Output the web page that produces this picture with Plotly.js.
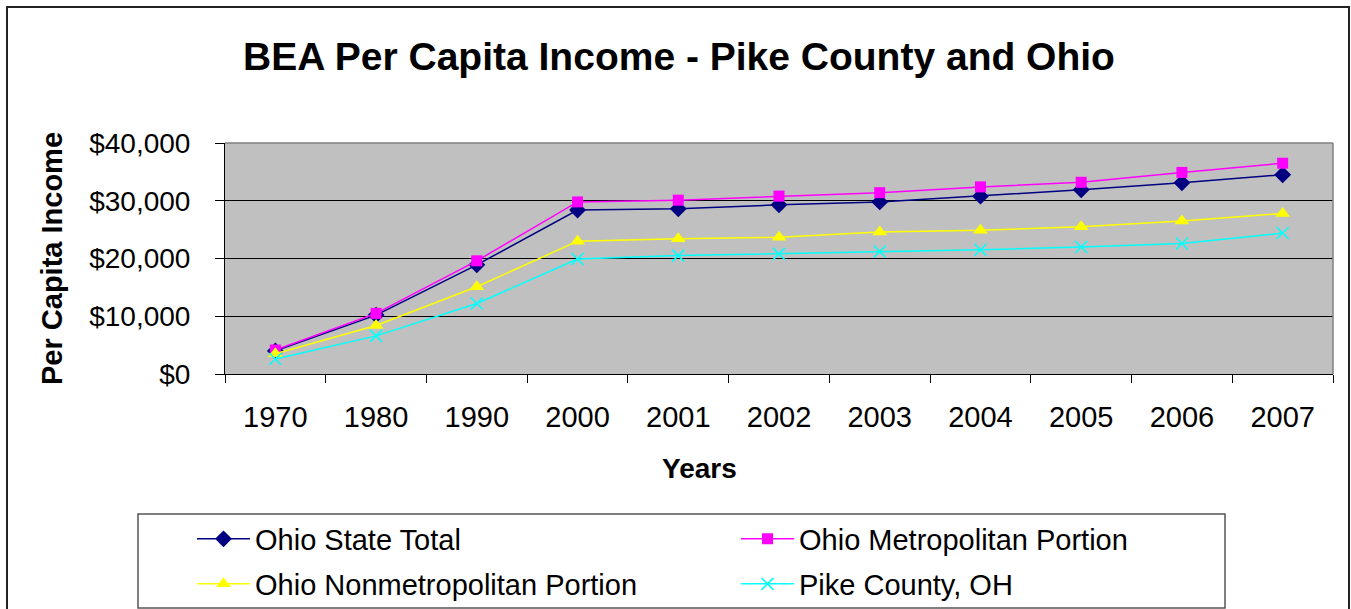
<!DOCTYPE html>
<html>
<head>
<meta charset="utf-8">
<script src="https://cdn.plot.ly/plotly-3.0.1.min.js"></script>
<style>html,body{margin:0;padding:0;background:#fff;}#chart{width:1351px;height:609px;}</style>
</head>
<body>
<div id="chart"></div>
<script>
var years = ['1970','1980','1990','2000','2001','2002','2003','2004','2005','2006','2007'];
var ohioState = [4000, 10200, 18900, 28400, 28600, 29300, 29800, 30800, 31900, 33100, 34500];
var ohioMetro = [4150, 10500, 19600, 29800, 30100, 30800, 31400, 32400, 33200, 34900, 36500];
var ohioNonmetro = [3500, 8400, 15100, 23000, 23400, 23700, 24600, 24900, 25500, 26500, 27800];
var pikeCounty = [2600, 6600, 12200, 19900, 20500, 20800, 21200, 21500, 22000, 22600, 24400];
var seriesNames = ['Ohio State Total','Ohio Metropolitan Portion','Ohio Nonmetropolitan Portion','Pike County, OH'];

var FONT = '"Liberation Sans", Arial, sans-serif';

var traces = [
  {x: years, y: ohioState, name: seriesNames[0], type: 'scatter', mode: 'lines+markers',
   line: {color: '#000080', width: 1.5}, marker: {symbol: 'diamond', size: 13, color: '#000080'}, legend: 'legend'},
  {x: years, y: ohioMetro, name: seriesNames[1], type: 'scatter', mode: 'lines+markers',
   line: {color: '#ff00ff', width: 1.5}, marker: {symbol: 'square', size: 11, color: '#ff00ff'}, legend: 'legend'},
  {x: years, y: ohioNonmetro, name: seriesNames[2], type: 'scatter', mode: 'lines+markers',
   line: {color: '#ffff00', width: 1.5}, marker: {symbol: 'triangle-up', size: 13, color: '#ffff00'}, legend: 'legend2'},
  {x: years, y: pikeCounty, name: seriesNames[3], type: 'scatter', mode: 'lines+markers',
   line: {color: '#00ffff', width: 1.5}, marker: {symbol: 'x-thin-open', size: 12, color: '#00ffff', line: {color: '#00ffff', width: 1.5}}, legend: 'legend2'}
];

// pixel helpers for paper coords (plot area: x 225..1333, y 143..374)
function px(x){ return (x - 225) / 1108; }
function py(y){ return (374 - y) / 231; }

var legendCommon = {
  orientation: 'h', xanchor: 'left', yanchor: 'middle',
  font: {family: FONT, size: 29, color: '#000'},
  bgcolor: 'rgba(0,0,0,0)', borderwidth: 0, itemwidth: 53,
  entrywidth: 476, entrywidthmode: 'pixels', tracegroupgap: 0, itemclick: false
};

var layout = {
  width: 1351, height: 609,
  margin: {l: 225, r: 18, t: 143, b: 235, autoexpand: false},
  paper_bgcolor: '#ffffff',
  plot_bgcolor: '#c0c0c0',
  font: {family: FONT, color: '#000'},
  showlegend: true,
  title: {text: '<b>BEA Per Capita Income - Pike County and Ohio</b>',
          font: {family: FONT, size: 39, color: '#000'},
          xref: 'container', x: 0.5026, xanchor: 'center',
          yref: 'container', y: 1 - 56/609, yanchor: 'middle'},
  xaxis: {
    type: 'category', range: [-0.5, 10.5], tickson: 'boundaries',
    ticks: 'outside', ticklen: 8, tickcolor: '#000', tickwidth: 1,
    showline: true, linecolor: '#000', linewidth: 1, showgrid: false, zeroline: false,
    tickfont: {family: FONT, size: 29, color: '#000'}, ticklabelstandoff: 17,
    fixedrange: true
  },
  yaxis: {
    range: [0, 40000], dtick: 10000, tick0: 0,
    tickprefix: '$', tickformat: ',d',
    ticks: 'outside', ticklen: 9, tickcolor: '#000', tickwidth: 1,
    showline: true, linecolor: '#000', linewidth: 1,
    showgrid: true, gridcolor: '#000', gridwidth: 1, zeroline: false,
    tickfont: {family: FONT, size: 28, color: '#000'}, ticklabelstandoff: 19,
    title: {text: '<b>Per Capita Income</b>', font: {family: FONT, size: 29, color: '#000'}, standoff: 18},
    fixedrange: true
  },
  legend: Object.assign({}, legendCommon, {x: px(192), y: py(539)}),
  legend2: Object.assign({}, legendCommon, {x: px(192), y: py(584)}),
  annotations: [
    {text: '<b>Years</b>', xref: 'paper', yref: 'paper', x: px(699), y: py(468),
     xanchor: 'center', yanchor: 'middle', showarrow: false,
     font: {family: FONT, size: 28, color: '#000'}}
  ],
  shapes: [
    // outer chart border
    {type: 'rect', xref: 'paper', yref: 'paper', x0: px(7), x1: px(1349), y0: py(620), y1: py(7),
     line: {color: '#222', width: 2}, fillcolor: 'rgba(0,0,0,0)', layer: 'above'},
    // plot frame top & right (gray)
    {type: 'line', xref: 'paper', yref: 'paper', x0: 0, x1: 1, y0: 1, y1: 1, line: {color: '#808080', width: 1.5}, layer: 'above'},
    {type: 'line', xref: 'paper', yref: 'paper', x0: 1, x1: 1, y0: 0, y1: 1, line: {color: '#808080', width: 1.5}, layer: 'above'},
    // legend box
    {type: 'rect', xref: 'paper', yref: 'paper', x0: px(138), x1: px(1225), y0: py(608), y1: py(514),
     line: {color: '#555', width: 1.5}, fillcolor: 'rgba(0,0,0,0)', layer: 'above'}
  ]
};

Plotly.newPlot('chart', traces, layout, {displayModeBar: false, staticPlot: true});
</script>
</body>
</html>
